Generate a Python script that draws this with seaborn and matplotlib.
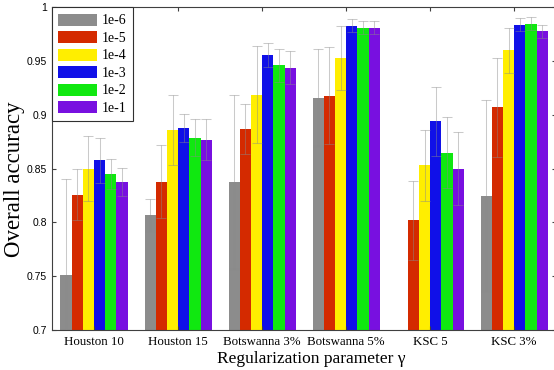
import pandas as pd
import matplotlib
matplotlib.use('Agg')
import matplotlib.pyplot as plt
import seaborn as sns

# 데이터
datasets = ['Houston 10', 'Houston 15', 'Botswanna 3%', 'Botswanna 5%', 'KSC 5', 'KSC 3%']
gammas = ['1e-6', '1e-5', '1e-4', '1e-3', '1e-2', '1e-1']
colors = ['#8c8c8c', '#d42a00', '#ffee00', '#1010e8', '#10e810', '#7810e0']

# 평균 정확도 (gamma 별, dataset 순서)
acc_1e6 = [0.751, 0.807, 0.838, 0.916, 0.680, 0.825]
acc_1e5 = [0.826, 0.838, 0.887, 0.918, 0.802, 0.907]
acc_1e4 = [0.850, 0.886, 0.919, 0.953, 0.853, 0.960]
acc_1e3 = [0.858, 0.888, 0.956, 0.983, 0.894, 0.984]
acc_1e2 = [0.845, 0.879, 0.946, 0.981, 0.865, 0.985]
acc_1e1 = [0.838, 0.877, 0.944, 0.981, 0.850, 0.978]

# 표준편차
std_1e6 = [0.089, 0.015, 0.081, 0.045, 0.005, 0.089]
std_1e5 = [0.024, 0.034, 0.023, 0.045, 0.037, 0.046]
std_1e4 = [0.030, 0.033, 0.045, 0.030, 0.033, 0.021]
std_1e3 = [0.021, 0.013, 0.011, 0.006, 0.032, 0.006]
std_1e2 = [0.014, 0.017, 0.015, 0.006, 0.033, 0.006]
std_1e1 = [0.013, 0.019, 0.015, 0.006, 0.034, 0.006]

accs = [acc_1e6, acc_1e5, acc_1e4, acc_1e3, acc_1e2, acc_1e1]
stds = [std_1e6, std_1e5, std_1e4, std_1e3, std_1e2, std_1e1]

rows = []
for g, a_list, s_list in zip(gammas, accs, stds):
    for d, a, s in zip(datasets, a_list, s_list):
        rows.append({'dataset': d, 'gamma': g, 'acc': a, 'std': s})
df = pd.DataFrame(rows)

plt.rcParams['font.family'] = ['Liberation Serif', 'DejaVu Serif']

fig = plt.figure(figsize=(5.54, 3.70), dpi=100)
ax = fig.add_axes([0.094, 0.108, 0.910, 0.872])

sns.barplot(data=df, x='dataset', y='acc', hue='gamma', order=datasets,
            hue_order=gammas, palette=colors, errorbar=None, width=0.8,
            saturation=1, linewidth=0, ax=ax)

# 에러바: 각 hue 컨테이너의 막대 위치에서 그림
for g, cont in zip(gammas, ax.containers):
    sub = df[df['gamma'] == g].set_index('dataset').loc[datasets]
    xs = [p.get_x() + p.get_width() / 2 for p in cont.patches]
    ax.errorbar(xs, sub['acc'].values, yerr=sub['std'].values, fmt='none',
                ecolor='#8a8a8a', alpha=0.45, elinewidth=0.75, capsize=3.5,
                capthick=0.75, zorder=5)

ax.set_ylim(0.7, 1.0)
ax.set_xlim(-0.5, 5.5)
yt = [0.7, 0.75, 0.8, 0.85, 0.9, 0.95, 1.0]
ax.set_yticks(yt)
ax.set_yticklabels(['0.7', '0.75', '0.8', '0.85', '0.9', '0.95', '1'],
                   family=['Liberation Sans'], fontsize=7.5)
ax.set_xticks(range(len(datasets)))
ax.set_xticklabels(datasets, fontsize=9.3)
ax.tick_params(axis='both', direction='in', length=3, width=0.8,
               color='#404040', top=True, right=True)
ax.tick_params(axis='x', pad=4)
for sp in ax.spines.values():
    sp.set_color('#404040')
    sp.set_linewidth(0.8)

ax.set_xlabel('Regularization parameter γ', fontsize=12.5)
ax.xaxis.set_label_coords(0.514, -0.064)
ax.set_ylabel('Overall accuracy', fontsize=16.5)
ax.yaxis.set_label_coords(-0.053, 0.467)

leg = ax.legend(loc='upper left', frameon=True, fancybox=False,
                borderaxespad=0, fontsize=10, handlelength=2.75,
                handleheight=0.95, labelspacing=0.27, handletextpad=0.4,
                borderpad=0.45, title=None)
leg.get_frame().set_edgecolor('#303030')
leg.get_frame().set_linewidth(0.8)
leg.get_frame().set_alpha(1)

plt.savefig('out.png', dpi=100)
plt.close()
